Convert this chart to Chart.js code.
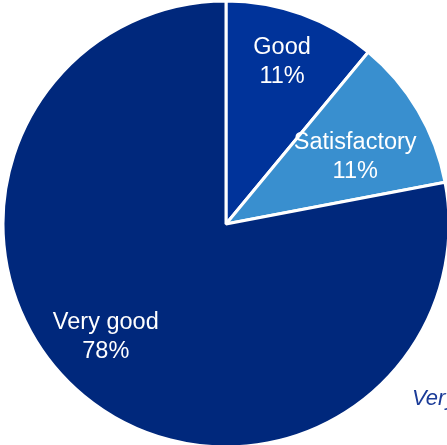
<!DOCTYPE html>
<html>
<head>
<meta charset="utf-8">
<script src="https://cdn.jsdelivr.net/npm/chart.js@4"></script>
<style>
  html, body { margin: 0; padding: 0; background: #fff; overflow: hidden; }
  #wrap { width: 447px; height: 445px; overflow: hidden; position: relative; }
  canvas { position: absolute; left: 0; top: 0; }
</style>
</head>
<body>
<div id="wrap"><canvas id="myChart" width="452" height="448"></canvas></div>
<script>
let labels = ['Good', 'Satisfactory', 'Very good'];
let values = [11, 11, 78];
let colorHex = ['#00339a', '#398fcf', '#00287c'];

// where each label sits along its slice (fraction of radius, extra angle in degrees)
let labelRadius = [0.78, 0.66, 0.73];
let labelTurn = [-1, 2, 8];

let sliceLabels = {
    id: 'sliceLabels',
    afterDatasetsDraw(chart) {
        let ctx = chart.ctx;
        let meta = chart.getDatasetMeta(0);
        ctx.save();
        ctx.fillStyle = '#ffffff';
        ctx.font = '23.5px "Liberation Sans", Arial, sans-serif';
        ctx.textAlign = 'center';
        ctx.textBaseline = 'alphabetic';
        meta.data.forEach((arc, i) => {
            let p = arc.getProps(['x', 'y', 'startAngle', 'endAngle', 'outerRadius'], true);
            let mid = (p.startAngle + p.endAngle) / 2 + labelTurn[i] * Math.PI / 180;
            let r = p.outerRadius * labelRadius[i];
            let x = p.x + Math.cos(mid) * r;
            let y = p.y + Math.sin(mid) * r;
            ctx.fillText(labels[i], x, y - 5);
            ctx.fillText(values[i] + '%', x, y + 24);
        });
        // cut-off caption at the lower right
        ctx.fillStyle = '#1b3c98';
        ctx.font = 'italic 22px "Liberation Sans", Arial, sans-serif';
        ctx.textAlign = 'left';
        ctx.fillText('Very good', 412, 405);
        ctx.restore();
    }
};

let myChart = document.getElementById('myChart').getContext('2d');
let chart = new Chart(myChart, {
    type: 'pie',
    data: {
        labels: labels,
        datasets: [
            {
                data: values,
                backgroundColor: colorHex,
                borderColor: '#ffffff',
                borderWidth: 3,
                radius: 223
            }
        ]
    },
    options: {
        responsive: false,
        animation: false,
        layout: { padding: 0 },
        plugins: {
            legend: { display: false },
            tooltip: { enabled: false }
        }
    },
    plugins: [sliceLabels]
});
</script>
</body>
</html>
